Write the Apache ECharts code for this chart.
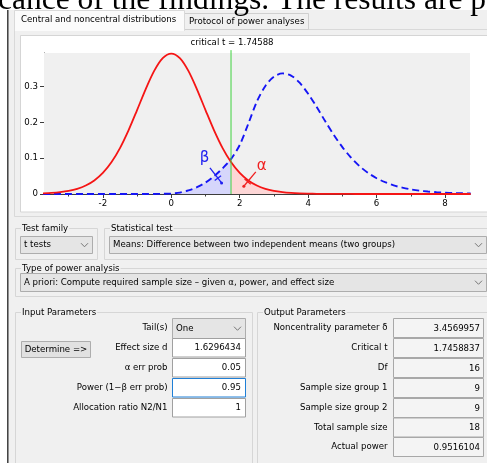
<!DOCTYPE html>
<html><head><meta charset="utf-8">
<script src="https://cdn.jsdelivr.net/npm/echarts@6/dist/echarts.min.js"></script>
<style>html,body{margin:0;padding:0;background:#fff;overflow:hidden}#c{width:487px;height:463px}</style>
</head><body><div id="c"></div>
<script>
// ---------- data ----------
const tValues = [-3.75,-3.5,-3.25,-3.0,-2.75,-2.5,-2.25,-2.0,-1.75,-1.5,-1.25,-1.0,-0.75,-0.5,-0.25,0,
  0.25,0.5,0.75,1.0,1.25,1.5,1.75,2.0,2.25,2.5,2.75,3.0,3.25,3.5,3.75,4.0,4.25,4.5,4.75,5.0,
  5.25,5.5,5.75,6.0,6.25,6.5,6.75,7.0,7.25,7.5,7.75,8.0,8.25,8.5,8.75];
const centralDensity = [0.0018,0.0031,0.0053,0.0088,0.0146,0.0238,0.0379,0.0589,0.0886,0.1283,0.1778,0.2345,0.2926,0.3440,0.3797,0.3925,
  0.3797,0.3440,0.2926,0.2345,0.1778,0.1283,0.0886,0.0589,0.0379,0.0238,0.0146,0.0088,0.0053,0.0031,0.0018,0.0011,0.0006,0.0004,0.0002,0.0001,
  0.0001,0,0,0,0,0,0,0,0,0,0,0,0,0,0];
const noncentralDensity = [0,0,0,0,0,0,0,0,0,0,0,0,0.0001,0.0002,0.0005,0.0012,
  0.004,0.010,0.019,0.032,0.050,0.072,0.098,0.137,0.196,0.258,0.302,0.328,0.337,0.331,0.311,0.280,0.243,0.203,0.165,0.131,
  0.102,0.078,0.059,0.044,0.033,0.024,0.018,0.013,0.0095,0.007,0.005,0.0037,0.0027,0.002,0.0015];
const criticalT = 1.74588;
const centralAtCritical = 0.0892;
const noncentralAtCritical = 0.0975;
const criticalLineTop = 0.402;
const xMajorTicks = [-2,0,2,4,6,8];
const xMinorTicks = [-3,-1,1,3,5,7];
const yLabelValues = [0,0.1,0.2,0.3];
const yMinorTicks = [0.05,0.15,0.25,0.35];
const betaLabelAt = [0.97,0.101];
const betaPointer = [[1.13,0.073],[1.47,0.031]];
const alphaLabelAt = [2.64,0.077];
const alphaPointer = [[2.47,0.062],[2.12,0.0217]];

const tabLabels = ['Central and noncentral distributions','Protocol of power analyses'];
const testFamily = 't tests';
const statisticalTest = 'Means: Difference between two independent means (two groups)';
const analysisType = 'A priori: Compute required sample size – given α, power, and effect size';
const inputLabels = ['Tail(s)','Effect size d','α err prob','Power (1−β err prob)','Allocation ratio N2/N1'];
const inputValues = ['One','1.6296434','0.05','0.95','1'];
const outputLabels = ['Noncentrality parameter δ','Critical t','Df','Sample size group 1','Sample size group 2','Total sample size','Actual power'];
const outputValues = ['3.4569957','1.7458837','16','9','9','18','0.9516104'];
const docLine = 'cance of the findings. The results are p';

// ---------- build ----------
const central = tValues.map((t,i)=>[t,centralDensity[i]]);
const noncentral = tValues.map((t,i)=>[t,noncentralDensity[i]]);
const betaArea = noncentral.filter(p=>p[0]<criticalT).concat([[criticalT,noncentralAtCritical]]);
const alphaArea = [[criticalT,centralAtCritical]].concat(central.filter(p=>p[0]>criticalT));

const FONT = '"DejaVu Sans"';
const FS = 8.6;
const chart = echarts.init(document.getElementById('c'), null, {renderer:'canvas'});

const axisColor = '#3c3c3c';
const option = {
  backgroundColor:'#ffffff',
  animation:false,
  grid:{left:44,right:17,top:53,bottom:269,show:true,backgroundColor:'#f0f0f0',borderWidth:0,z:1},
  xAxis:[
    {type:'value',min:-3.72,max:8.73,position:'bottom',
     axisLine:{show:true,onZero:false,lineStyle:{color:axisColor,width:1}},
     axisTick:{show:true,customValues:xMajorTicks,length:4,lineStyle:{color:axisColor}},
     axisLabel:{show:true,customValues:xMajorTicks,fontSize:FS,fontFamily:FONT,color:'#000',margin:5},
     splitLine:{show:false}},
    {type:'value',min:-3.72,max:8.73,position:'bottom',
     axisLine:{show:false},
     axisTick:{show:true,customValues:xMinorTicks,length:2.5,lineStyle:{color:axisColor}},
     axisLabel:{show:false},splitLine:{show:false}}
  ],
  yAxis:[
    {type:'value',min:0,max:0.394,position:'left',
     axisLine:{show:true,onZero:false,lineStyle:{color:axisColor,width:1}},
     axisTick:{show:true,customValues:yLabelValues,length:4,lineStyle:{color:axisColor}},
     axisLabel:{show:true,customValues:yLabelValues,fontSize:FS,fontFamily:FONT,color:'#000',margin:6},
     splitLine:{show:false}},
    {type:'value',min:0,max:0.394,position:'left',
     axisLine:{show:false},
     axisTick:{show:true,customValues:yMinorTicks,length:2.5,lineStyle:{color:axisColor}},
     axisLabel:{show:false},splitLine:{show:false}}
  ],
  series:[
    {type:'line',data:betaArea,smooth:0.3,symbol:'none',lineStyle:{opacity:0,width:0},
     areaStyle:{color:'#d6d6fb',opacity:1},z:2,silent:true},
    {type:'line',data:alphaArea,smooth:0.3,symbol:'none',lineStyle:{opacity:0,width:0},
     areaStyle:{color:'#fdd6d6',opacity:1},z:2,silent:true},
    {type:'line',data:noncentral,smooth:0.3,symbol:'none',z:3,
     lineStyle:{color:'#1515f5',width:1.9,type:[7,4]}},
    {type:'line',data:central,smooth:0.3,symbol:'none',z:4,
     lineStyle:{color:'#f51515',width:1.8}},
    {type:'line',data:[[criticalT,0],[criticalT,criticalLineTop]],symbol:'none',z:5,clip:false,silent:true,
     lineStyle:{color:'#3fd23f',width:1}}
  ]
};
chart.setOption(option);

// ---------- UI chrome (graphic) ----------
const G = [];
function R(x,y,w,h,fill,stroke,z){G.push({type:'rect',silent:true,z:(z===undefined?-10:z),shape:{x:x,y:y,width:w,height:h},style:{fill:fill||'none',stroke:stroke||null,lineWidth:1}});}
function L(x1,y1,x2,y2,color,w,z){G.push({type:'line',silent:true,z:(z===undefined?-5:z),shape:{x1:x1,y1:y1,x2:x2,y2:y2},style:{stroke:color,lineWidth:w||1}});}
function T(x,y,text,align,opts){opts=opts||{};G.push({type:'text',silent:true,z:(opts.z||50),x:x,y:y,style:Object.assign({text:text,fill:'#000',font:FS+'px '+FONT,align:align||'left',verticalAlign:'middle'},opts.style||{})});}
function chevron(cx,cy){G.push({type:'polyline',silent:true,z:20,shape:{points:[[cx-3.5,cy-1.8],[cx,cy+1.8],[cx+3.5,cy-1.8]]},style:{stroke:'#777',lineWidth:1,fill:'none'}});}

// document & window
R(0,0,487,463,'#ffffff',null,-30);
R(9,10,478,453,'#f0f0f0',null,-25);
R(7,10,1.6,453,'#454545',null,-20);
// tabs and panel
R(14.5,29.5,480,187,'#f0f0f0','#d9d9d9',-22);
R(184.5,13.5,124,16,'#f0f0f0','#cfcfcf',-21);
R(14.5,10.5,170,20,'#fbfbfb','#d9d9d9',-21);
R(15,29,169,2,'#fbfbfb',null,-20);
T(21,20,tabLabels[0],'left');
T(189,21.5,tabLabels[1],'left');
R(20.5,35.5,470,176.5,'#ffffff','#d5d5d5',-19);

// group boxes
function group(x,y,w,h,label){R(x+0.5,y+0.5,w,h,null,'#d6d6d6',-15);T(x+6,y+0.5,label,'left',{style:{backgroundColor:'#f0f0f0',padding:[0,1,0,1]}});}
group(15,228,82,31,'Test family');
group(104,228,390,31,'Statistical test');
group(15,268,480,28,'Type of power analysis');
group(15,312,237,160,'Input Parameters');
group(257,312,240,160,'Output Parameters');

function combo(x,y,w,h,text){R(x+0.5,y+0.5,w,h,'#e5e5e5','#adadad',-12);T(x+4,y+h/2+0.5,text,'left');chevron(x+w-7.5,y+h/2+0.5);}
combo(20,236,72,17,testFamily);
combo(109,236,377,17,statisticalTest);
combo(20,273,466,18,analysisType);

// input parameters
const inRowsY = [318,338,358,378,398];
inputLabels.forEach((lab,i)=>{ T(167.5,inRowsY[i]+10,lab,'right'); });
combo(172,318,73,20,inputValues[0]);
for(let i=1;i<inputValues.length;i++){
  const y=inRowsY[i]+0.5;
  R(172.5,y,73,18.5,'#ffffff',i===3?'#1f7fd6':'#a0a0a0',-12);
  T(241,y+9.5,inputValues[i],'right');
}
R(21.5,341.5,69,16,'#e1e1e1','#adadad',-12);
T(56,349.8,'Determine =>','center');

// output parameters
const outRowsY = [318,338,358,378,398,417.5,437];
outputLabels.forEach((lab,i)=>{
  T(387.5,outRowsY[i]+10,lab,'right');
  R(393.5,outRowsY[i]+0.5,90,19,'#f4f4f4','#a8a8a8',-12);
  T(480,outRowsY[i]+10.3,outputValues[i],'right');
});

// document text above the window
G.push({type:'text',silent:true,z:60,x:-2,y:0.5,style:{text:docLine,fill:'#000',font:'31.5px "Liberation Serif"',align:'left',verticalAlign:'middle'}});

// chart annotations
const px = p=>chart.convertToPixel({xAxisIndex:0,yAxisIndex:0},p);
const critTop = px([criticalT,0.394]);
T(critTop[0]+1,43,'critical t = 1.74588','center');
function pointer(label,pts,color,sym){
  const lp = px(label), a = px(pts[0]), b = px(pts[1]);
  G.push({type:'text',silent:true,z:60,x:lp[0],y:lp[1],style:{text:sym,fill:color,font:'15px '+FONT,align:'center',verticalAlign:'middle'}});
  L(a[0],a[1],b[0],b[1],color,1.3,60);
  const dx=b[0]-a[0], dy=b[1]-a[1], len=Math.hypot(dx,dy);
  const cx=a[0]+dx*0.68, cy=a[1]+dy*0.68, nx=-dy/len*4, ny=dx/len*4;
  L(cx-nx,cy-ny,cx+nx,cy+ny,color,1.3,60);
  G.push({type:'circle',silent:true,z:60,shape:{cx:b[0],cy:b[1],r:1.5},style:{fill:color}});
}
pointer(betaLabelAt,betaPointer,'#2020f0','β');
pointer(alphaLabelAt,alphaPointer,'#f02020','α');

chart.setOption({graphic:{elements:G}});
</script>
</body></html>
